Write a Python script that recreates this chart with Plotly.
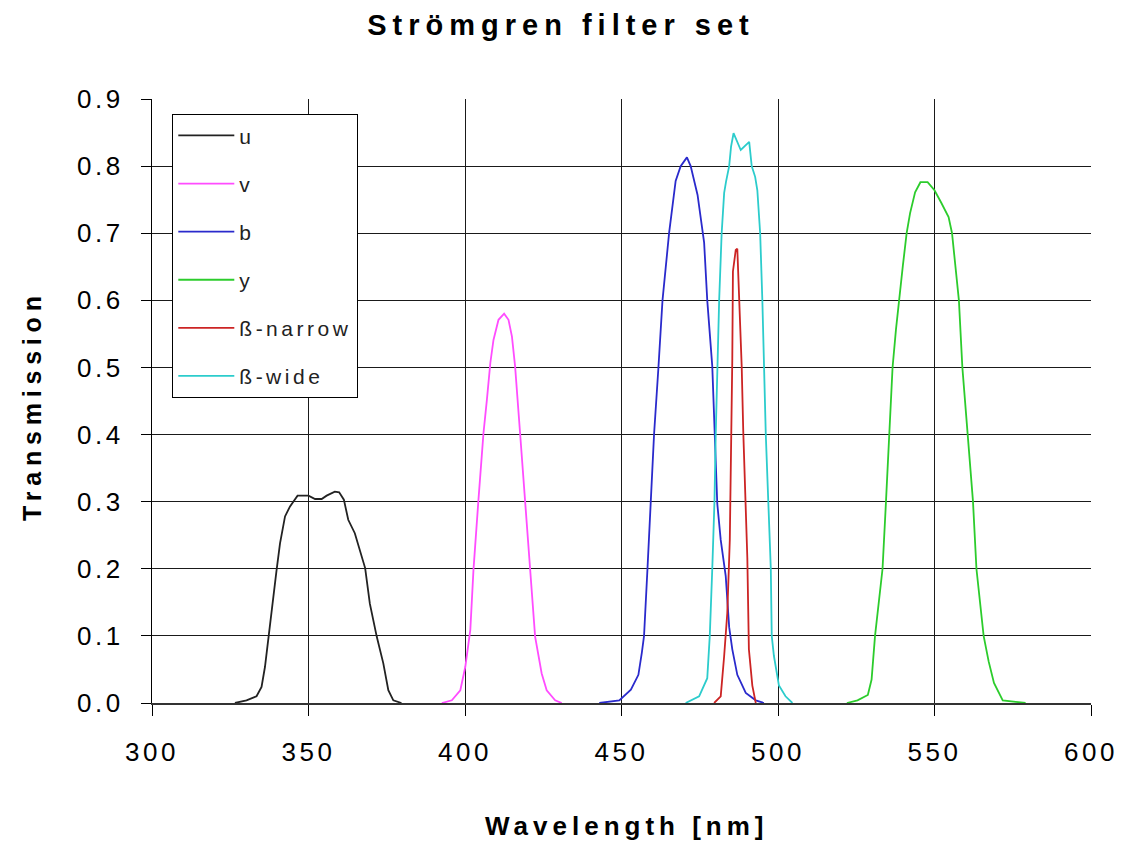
import plotly.graph_objects as go

# ---------------- data ----------------
series_names = ['u', 'v', 'b', 'y', 'ß-narrow', 'ß-wide']

u_wl = [326.5, 330.2, 333.4, 335.0, 336.1, 337.2, 338.8, 339.8, 340.9, 342.5, 344.1, 346.5,
        350.0, 352.1, 354.2, 355.8, 358.4, 359.8, 361.3, 362.7, 364.8, 366.5, 368.1, 369.6,
        371.8, 373.9, 375.5, 377.1, 379.7]
u_tr = [0.0, 0.004, 0.01, 0.024, 0.054, 0.099, 0.158, 0.198, 0.238, 0.278, 0.293, 0.309,
        0.309, 0.304, 0.304, 0.309, 0.315, 0.314, 0.303, 0.273, 0.253, 0.228, 0.201, 0.148,
        0.099, 0.059, 0.019, 0.004, 0.0]

v_wl = [392.6, 395.8, 398.5, 400.1, 401.7, 402.7, 404.3, 405.9, 407.0, 408.1, 409.1, 410.7,
        412.5, 413.9, 415.0, 416.0, 417.6, 419.2, 420.8, 422.4, 424.5, 426.1, 428.8, 430.9]
v_tr = [0.0, 0.004, 0.019, 0.054, 0.109, 0.198, 0.303, 0.402, 0.452, 0.507, 0.541, 0.571,
        0.580, 0.571, 0.546, 0.502, 0.402, 0.303, 0.198, 0.099, 0.044, 0.019, 0.004, 0.0]

b_wl = [442.9, 449.3, 453.0, 455.4, 456.5, 457.2, 458.3, 459.4, 460.4, 461.8, 463.1, 465.2,
        467.3, 468.9, 470.9, 472.1, 474.3, 476.4, 477.4, 479.0, 479.9, 480.6, 481.7, 483.3,
        484.4, 485.4, 487.0, 489.7, 492.9, 495.5]
b_tr = [0.0, 0.004, 0.02, 0.042, 0.075, 0.1, 0.2, 0.3, 0.4, 0.5, 0.6, 0.7,
        0.778, 0.8, 0.813, 0.8, 0.757, 0.686, 0.6, 0.502, 0.398, 0.297, 0.243, 0.189,
        0.113, 0.08, 0.042, 0.015, 0.004, 0.0]

y_wl = [522.0, 525.4, 528.7, 529.9, 531.0, 532.4, 533.4, 534.5, 535.5, 536.6, 537.7, 538.8,
        539.9, 541.1, 542.2, 543.8, 545.5, 547.8, 550.0, 552.2, 554.5, 555.6, 556.7, 557.8,
        558.9, 560.6, 562.3, 563.4, 565.7, 567.3, 569.0, 571.8, 579.1]
y_tr = [0.0, 0.004, 0.012, 0.035, 0.1, 0.157, 0.2, 0.3, 0.4, 0.5, 0.557, 0.6,
        0.652, 0.7, 0.73, 0.761, 0.776, 0.776, 0.764, 0.745, 0.724, 0.7, 0.652, 0.6,
        0.5, 0.4, 0.3, 0.2, 0.1, 0.062, 0.03, 0.004, 0.0]

bn_wl = [479.6, 481.7, 482.8, 483.8, 484.6, 485.2, 485.4, 485.6, 486.5, 487.0, 487.6, 488.4,
         488.9, 489.7, 490.2, 490.7, 491.8, 492.9]
bn_tr = [0.0, 0.01, 0.07, 0.134, 0.243, 0.405, 0.513, 0.643, 0.675, 0.677, 0.6, 0.502,
         0.405, 0.297, 0.216, 0.08, 0.026, 0.0]

bw_wl = [470.5, 474.8, 477.4, 478.2, 479.0, 479.7, 480.1, 480.6, 481.2, 482.0, 482.8, 483.4,
         484.4, 485.0, 485.8, 488.1, 490.8, 491.6, 492.7, 493.4, 494.3, 495.0, 495.5, 496.1,
         496.9, 497.7, 498.0, 498.7, 500.3, 502.4, 504.6]
bw_tr = [0.0, 0.01, 0.037, 0.1, 0.2, 0.3, 0.4, 0.5, 0.6, 0.7, 0.76, 0.777,
         0.80, 0.829, 0.849, 0.824, 0.836, 0.80, 0.784, 0.764, 0.7, 0.6, 0.5, 0.4,
         0.3, 0.2, 0.1, 0.07, 0.026, 0.01, 0.0]

x_tick_vals = [300, 350, 400, 450, 500, 550, 600]
x_tick_labels = ['300', '350', '400', '450', '500', '550', '600']
y_tick_vals = [0.0, 0.1, 0.2, 0.3, 0.4, 0.5, 0.6, 0.7, 0.8, 0.9]
y_tick_labels = ['0.0', '0.1', '0.2', '0.3', '0.4', '0.5', '0.6', '0.7', '0.8', '0.9']

title_text = 'Strömgren filter set'
x_title = 'Wavelength [nm]'
y_title = 'Transmission'

# ---------------- styling ----------------
colors = ['#222222', '#FF4CFF', '#2A2ACC', '#2CCC2C', '#CC2424', '#2CCCCC']
FONT = 'Liberation Sans, Arial, sans-serif'


def spaced(text, px):
    return f'<span style="letter-spacing:{px}px">{text}</span>'


wls = [u_wl, v_wl, b_wl, y_wl, bn_wl, bw_wl]
trs = [u_tr, v_tr, b_tr, y_tr, bn_tr, bw_tr]

fig = go.Figure()
for name, wl, tr, col in zip(series_names, wls, trs, colors):
    fig.add_trace(go.Scatter(
        x=wl, y=tr, mode='lines', name=spaced(name, 3.5),
        legendgroup=name,
        line=dict(color=col, width=1.8),
    ))

fig.update_layout(
    width=1122, height=842, autosize=False,
    margin=dict(l=152, r=31, t=99, b=139, autoexpand=False),
    plot_bgcolor='white', paper_bgcolor='white',
    font=dict(family=FONT, color='black'),
    title=dict(text=spaced(title_text, 6), x=0.5, xanchor='center',
               y=1 - 25 / 842, yanchor='middle',
               font=dict(size=29, weight=700, family=FONT, color='black')),
    showlegend=True,
    legend=dict(x=0.0213, y=(703 - 114) / 604, xanchor='left', yanchor='top',
                bgcolor='white', bordercolor='black', borderwidth=1.3,
                font=dict(size=21, family=FONT, color='#222'),
                tracegroupgap=17.8, itemwidth=56, traceorder='grouped'),
    annotations=[
        dict(text=spaced(x_title, 5), xref='paper', yref='paper',
             x=0.505, y=(703 - 826) / 604, xanchor='center', yanchor='middle',
             showarrow=False, font=dict(size=26, weight=700, family=FONT, color='black')),
        dict(text=spaced(y_title, 5.8), xref='paper', yref='paper',
             x=(32 - 152) / 939, y=0.4917, xanchor='center', yanchor='middle',
             textangle=-90, showarrow=False,
             font=dict(size=25, weight=700, family=FONT, color='black')),
    ],
)

fig.update_xaxes(
    range=[300, 600], tickmode='array', tickvals=x_tick_vals,
    ticktext=[spaced(t, 3.5) for t in x_tick_labels],
    ticks='outside', ticklen=11, tickwidth=1.3, tickcolor='black',
    showgrid=True, gridcolor='#1a1a1a', gridwidth=1.3,
    showline=True, linecolor='#333', linewidth=2, zeroline=False,
    tickfont=dict(size=26, family=FONT, color='black'),
    ticklabelstandoff=14, automargin=False,
)
fig.update_yaxes(
    range=[0, 0.9], tickmode='array', tickvals=y_tick_vals,
    ticktext=[spaced(t, 3.5) for t in y_tick_labels],
    ticks='outside', ticklen=10, tickwidth=1.3, tickcolor='black',
    showgrid=True, gridcolor='#1a1a1a', gridwidth=1.3,
    showline=True, linecolor='black', linewidth=1.3, zeroline=False,
    tickfont=dict(size=26, family=FONT, color='black'),
    ticklabelstandoff=12, automargin=False,
)

fig.write_html('out.html',
               config={'displayModeBar': False},
               post_script="document.body.style.margin='0';"
                           "document.body.style.overflow='hidden';")
